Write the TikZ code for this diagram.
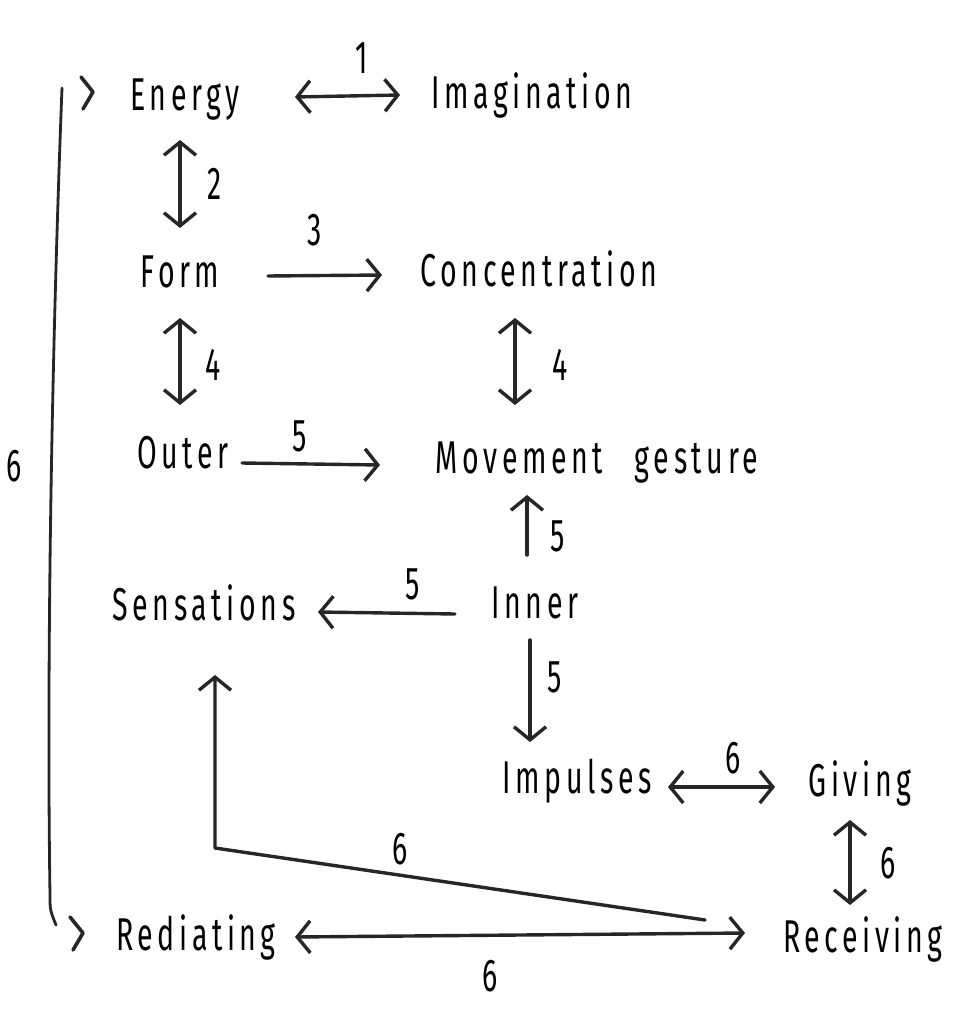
\documentclass[tikz,border=0pt]{standalone}
\usepackage{fontspec}
\setmainfont{Fira Sans}[FakeStretch=0.62, LetterSpace=10]
\usetikzlibrary{arrows.meta,calc}
\definecolor{ink}{HTML}{262626}
\tikzset{
  lbl/.style={font=\fontsize{46}{46}\selectfont, inner sep=0pt, text height=32pt, text depth=0pt, anchor=center, text=black},
  conn/.style={draw=ink, line width=3.4pt, line cap=round, line join=round},
  tip/.tip={Straight Barb[length=13pt,width=32pt]},
  one/.style={conn, -tip},
  both/.style={conn, tip-tip},
  chev/.style={draw=ink, line width=3.6pt, line cap=round, line join=round},
}
\begin{document}
\begin{tikzpicture}[x=1pt,y=-1pt]
\useasboundingbox (0,0) rectangle (961,1027);
% nodes
\node[lbl] (energy) at (185,95) {Energy};
\node[lbl] (imag) at (532,93) {Imagination};
\node[lbl] (form) at (180,271) {Form};
\node[lbl] (conc) at (539,270) {Concentration};
\node[lbl] (outer) at (183,452) {Outer};
\node[lbl] (move) at (597,457) {Movement\hspace{32pt}gesture};
\node[lbl] (sens) at (204,604) {Sensations};
\node[lbl] (inner) at (535,602) {Inner};
\node[lbl] (imp) at (577,777) {Impulses};
\node[lbl] (giving) at (860,780) {Giving};
\node[lbl] (recv) at (863,936) {Receiving};
\node[lbl] (redi) at (196,934) {Rediating};
% numbers
\node[lbl] (n1) at (362,58) {1};
\node[lbl] (n2) at (215,183) {2};
\node[lbl] (n3) at (315,229) {3};
\node[lbl] (n4a) at (213,364) {4};
\node[lbl] (n4b) at (560,364) {4};
\node[lbl] (n5a) at (300,435) {5};
\node[lbl] (n5b) at (558,535) {5};
\node[lbl] (n5c) at (413,583) {5};
\node[lbl] (n5d) at (555,676) {5};
\node[lbl] (n6a) at (733,757) {6};
\node[lbl] (n6b) at (888,862) {6};
\node[lbl] (n6c) at (400,848) {6};
\node[lbl] (n6d) at (490,975) {6};
\node[lbl] (n6e) at (14,465) {6};
% connectors
\draw[both] ($(energy)+(110,2)$) -- ($(imag)+(-132,2)$);
\draw[both] ($(energy)+(-5,45)$) -- ($(form)+(0,-43)$);
\draw[one] ($(form)+(88,5)$) -- ($(conc)+(-157,5)$);
\draw[both] ($(form)+(0,47)$) -- ($(outer)+(-3,-47)$);
\draw[both] ($(conc)+(-24,48)$) -- ($(move)+(-82,-52)$);
\draw[one] ($(outer)+(59,11)$) -- ($(move)+(-217,8)$);
\draw[one] ($(inner)+(-8,-47)$) -- ($(move)+(-70,38)$);
\draw[one] ($(inner)+(-80,12)$) -- ($(sens)+(114,8)$);
\draw[one] ($(inner)+(-5,38)$) -- ($(imp)+(-47,-35)$);
\draw[both] ($(imp)+(91,10)$) -- ($(giving)+(-85,7)$);
\draw[both] ($(giving)+(-10,40)$) -- ($(recv)+(-13,-31)$);
\draw[both] ($(redi)+(99,3)$) -- ($(recv)+(-118,-3)$);
\coordinate (corner) at (215,848);
\draw[one] ($(recv)+(-158,-16)$) -- (corner) -- ($(sens)+(11,71)$);
% left bracket from Energy to Rediating
\coordinate (btop) at (62,88);
\coordinate (bbot) at (56,925);
\draw[conn, line width=2.8pt] (btop) .. controls (50,400) and (47,700) .. (50,895) .. controls (50,910) .. (bbot);
\draw[chev] ($(energy)+(-104,-18)$) -- ($(energy)+(-92,-3)$) -- ($(energy)+(-102,14)$);
\draw[chev] ($(redi)+(-126,-17)$) -- ($(redi)+(-113,-1)$) -- ($(redi)+(-123,16)$);
\end{tikzpicture}
\end{document}
